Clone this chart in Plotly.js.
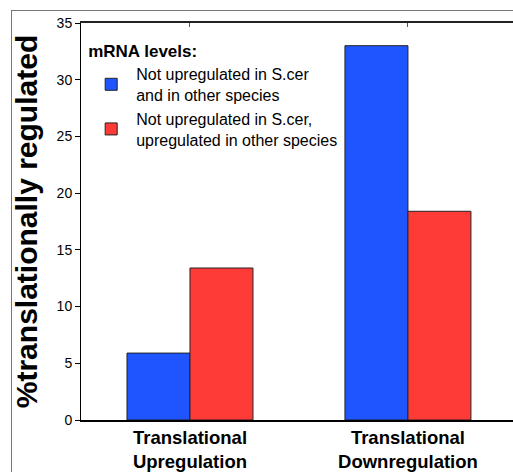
<!DOCTYPE html>
<html>
<head>
<meta charset="utf-8">
<script src="https://cdn.plot.ly/plotly-3.0.1.min.js"></script>
<style>
  html, body { margin: 0; padding: 0; background: #fff; }
  #frame { position: absolute; left: 11px; top: 10px; width: 600px; height: 600px;
           border-left: 1px solid #777; border-top: 1px solid #777; }
  #chart { position: absolute; left: 0; top: 0; width: 513px; height: 472px; }
</style>
</head>
<body>
<div id="frame"></div>
<div id="chart"></div>
<script>
// ---- data ----
const categories = ["Translational Upregulation", "Translational Downregulation"];
const labelLine1 = ["Translational", "Translational"];
const labelLine2 = ["Upregulation", "Downregulation"];
const seriesNames = [
  "Not upregulated in S.cer<br>and in other species",
  "Not upregulated in S.cer,<br>upregulated in other species"
];
const notUpEverywhere = [5.9, 33.0];
const upInOtherSpecies = [13.4, 18.4];
const yTickValues = [0, 5, 10, 15, 20, 25, 30, 35];
const legendTitle = "mRNA levels:";
const yTitle = "%translationally regulated";

// ---- chart ----
const FONT = "Liberation Sans, Arial, Helvetica, sans-serif";
const xRange = [-0.5, 1.482];

const traces = [
  { type: "bar", name: seriesNames[0], x: categories, y: notUpEverywhere,
    marker: { color: "#1f55ff", line: { color: "#222", width: 1 } } },
  { type: "bar", name: seriesNames[1], x: categories, y: upInOtherSpecies,
    marker: { color: "#ff3b38", line: { color: "#222", width: 1 } } },
  // empty helper traces so the top frame axis and the second label row are drawn
  { type: "scatter", x: [], y: [], xaxis: "x2", yaxis: "y", showlegend: false, hoverinfo: "skip" },
  { type: "scatter", x: [], y: [], xaxis: "x3", yaxis: "y", showlegend: false, hoverinfo: "skip" }
];

const layout = {
  width: 513, height: 472,
  margin: { l: 81, r: 0, t: 23, b: 52 },
  paper_bgcolor: "rgba(0,0,0,0)", plot_bgcolor: "rgba(0,0,0,0)",
  font: { family: FONT, color: "#000" },
  barmode: "group", bargap: 0.422, bargroupgap: 0,
  showlegend: true,
  legend: {
    x: 0.012, y: 0.97, xanchor: "left", yanchor: "top",
    bgcolor: "rgba(0,0,0,0)",
    font: { family: FONT, size: 16, color: "#000" },
    title: { text: "<b>" + legendTitle + "</b>", font: { family: FONT, size: 17, color: "#000" } },
    traceorder: "normal", itemwidth: 40, tracegroupgap: 0
  },
  xaxis: {
    type: "category", range: xRange, fixedrange: true,
    tickvals: categories, ticktext: labelLine1,
    ticks: "", showgrid: false, zeroline: false,
    showline: true, linecolor: "#000", linewidth: 1.5,
    tickfont: { family: FONT, size: 18.5, color: "#000", weight: "bold" }
  },
  xaxis2: {
    type: "linear", overlaying: "x", side: "top", range: xRange, fixedrange: true,
    tickvals: [0, 1], showticklabels: false,
    ticks: "inside", ticklen: 4, tickcolor: "#555", tickwidth: 1,
    showgrid: false, zeroline: false,
    showline: true, linecolor: "#222", linewidth: 2
  },
  xaxis3: {
    type: "linear", overlaying: "x", side: "bottom", range: xRange, fixedrange: true,
    tickvals: [0, 1], ticktext: labelLine2, ticks: "",
    ticklabelstandoff: 28,
    showgrid: false, zeroline: false, showline: false,
    tickfont: { family: FONT, size: 18.5, color: "#000", weight: "bold" }
  },
  yaxis: {
    range: [0, 35], fixedrange: true, tickvals: yTickValues,
    ticks: "outside", ticklen: 5, tickcolor: "#000", tickwidth: 1,
    showgrid: false, zeroline: false,
    showline: true, linecolor: "#000", linewidth: 1,
    tickfont: { family: FONT, size: 14, color: "#000" },
    title: { text: yTitle, standoff: 10,
             font: { family: FONT, size: 30, color: "#000", weight: "bold" } }
  }
};

Plotly.newPlot("chart", traces, layout, { staticPlot: true, displayModeBar: false });
</script>
</body>
</html>
